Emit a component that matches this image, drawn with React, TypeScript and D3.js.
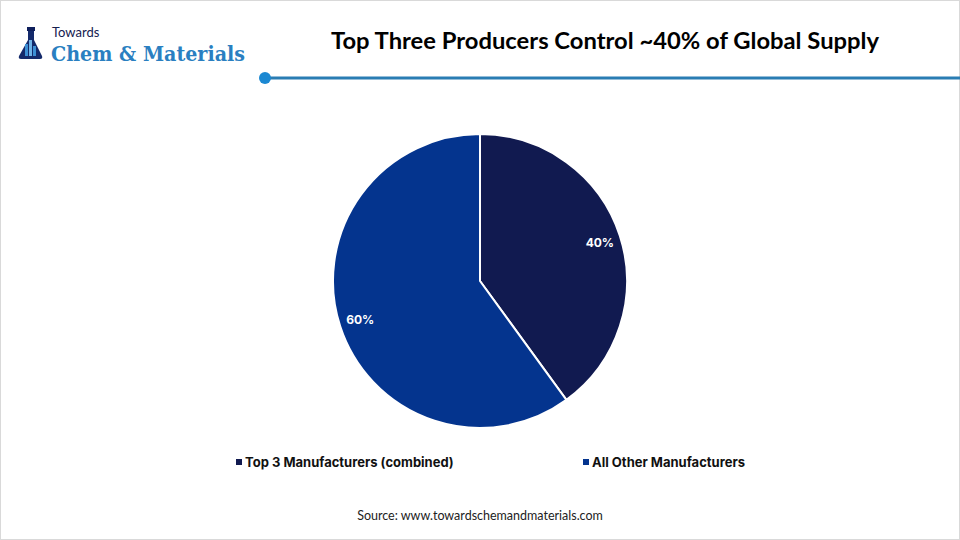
import React from "react";
import * as d3 from "d3";

const categories = ["Top 3 Manufacturers (combined)", "All Other Manufacturers"];
const shares = [40, 60];
const sliceLabels = ["40%", "60%"];
const colors = ["#111a50", "#04348e"];

const W = 960;
const H = 540;

export default function App() {
  const cx = 480;
  const cy = 281;
  const r = 147;
  const pie = d3.pie<number>().sort(null).value((d) => d)(shares);
  const arc = d3.arc<d3.PieArcDatum<number>>().innerRadius(0).outerRadius(r);
  const labelArc = d3.arc<d3.PieArcDatum<number>>().innerRadius(126).outerRadius(126);

  const legendX = [236, 583];

  return (
    <div style={{ position: "absolute", left: 0, top: 0, width: W, height: H }}>
      <svg width={W} height={H} viewBox={`0 0 ${W} ${H}`} style={{ display: "block" }}>
        <rect x={0.5} y={0.5} width={W - 1} height={H - 1} fill="#ffffff" stroke="#d9d9d9" />

        {/* Logo */}
        <g>
          <rect x={27} y={27} width={8} height={4} fill="#0f1f5c" />
          <path d="M28,31 L34,31 L34,40 L42,56 Q43,59 40,59 L21,59 Q18,59 19,56 L28,40 Z" fill="#142a6b" />
          <rect x={25} y={44} width={3} height={12} fill="#3c8fd4" />
          <rect x={29} y={40} width={3} height={16} fill="#6fb3e8" />
          <rect x={33} y={46} width={3} height={10} fill="#3c8fd4" />
          <text x={52} y={37} fontFamily="Lato, 'Open Sans', sans-serif" fontSize={13} fill="#14204f">Towards</text>
          <text x={51} y={61} fontFamily="'DejaVu Serif', 'Liberation Serif', serif" fontWeight={700} fontSize={21} fill="#2a7fc1" textLength={194} lengthAdjust="spacingAndGlyphs">Chem &amp; Materials</text>
        </g>

        {/* Title */}
        <text x={605} y={49} textAnchor="middle" fontFamily="Lato, 'Open Sans', sans-serif" fontWeight={700} fontSize={23} fill="#000000" textLength={548} lengthAdjust="spacingAndGlyphs">
          Top Three Producers Control ~40% of Global Supply
        </text>
        <line x1={265} y1={78} x2={960} y2={78} stroke="#2a7db3" strokeWidth={3} />
        <circle cx={265} cy={78} r={6} fill="#1b88d2" />

        {/* Pie */}
        <g transform={`translate(${cx},${cy})`}>
          {pie.map((d, i) => (
            <path key={i} d={arc(d) || ""} fill={colors[i]} stroke="#ffffff" strokeWidth={2} strokeLinejoin="round" />
          ))}
          {pie.map((d, i) => {
            const [lx, ly] = labelArc.centroid(d);
            return (
              <text key={i} x={lx} y={ly} textAnchor="middle" dominantBaseline="central" fontFamily="Inter, 'Noto Sans', sans-serif" fontWeight={700} fontSize={12} fill="#ffffff">
                {sliceLabels[i]}
              </text>
            );
          })}
        </g>

        {/* Legend */}
        {categories.map((c, i) => (
          <g key={c}>
            <rect x={legendX[i]} y={459} width={6} height={6} fill={colors[i]} />
            <text x={legendX[i] + 9} y={467} fontFamily="Inter, 'Noto Sans', sans-serif" fontWeight={700} fontSize={13} fill="#111111">
              {c}
            </text>
          </g>
        ))}

        {/* Source */}
        <text x={480} y={520} textAnchor="middle" fontFamily="Lato, 'Open Sans', sans-serif" fontSize={12.5} fill="#222222">
          Source: www.towardschemandmaterials.com
        </text>
      </svg>
    </div>
  );
}
